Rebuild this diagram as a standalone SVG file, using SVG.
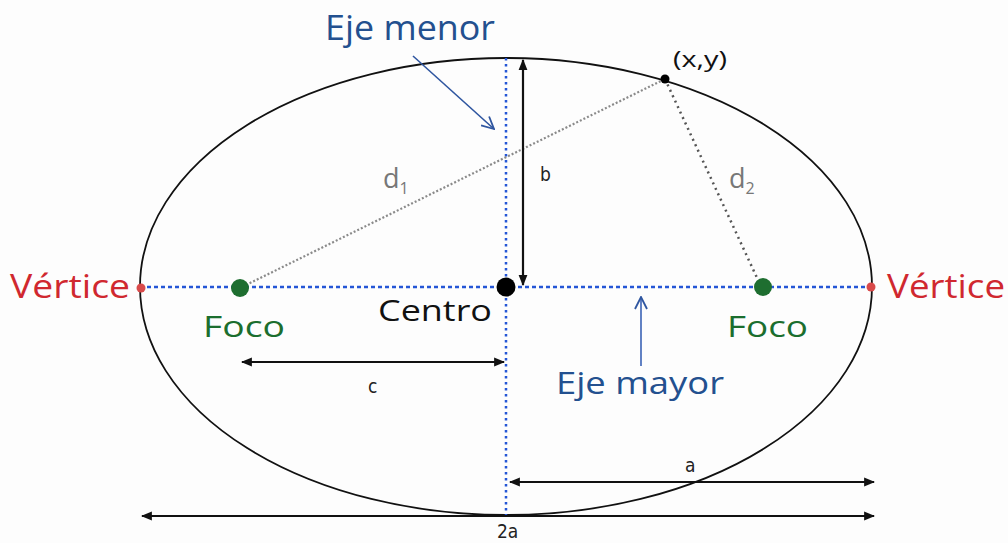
<svg xmlns="http://www.w3.org/2000/svg" width="1008" height="543" viewBox="0 0 1008 543">
<style>
.lbl{font-family:"Open Sans","Noto Sans","Liberation Sans",sans-serif}
.small{font-family:"Liberation Sans Narrow","DejaVu Sans Condensed","Liberation Sans",sans-serif;font-size:19px;fill:#222}
.axis{stroke:#2456d6;stroke-width:2.5;fill:none}
.dim{stroke:#111;stroke-width:2.2;fill:none;marker-start:url(#ah);marker-end:url(#ah)}
.blue{fill:#23508f}
.red{fill:#d0282f}
.green{fill:#1b6e2e}
</style>
<defs>
<marker id="ah" viewBox="0 0 10 10" refX="9" refY="5" markerWidth="5" markerHeight="5" orient="auto-start-reverse" markerUnits="strokeWidth">
<path d="M0,1 L10,5 L0,9 Z" fill="#111"/>
</marker>
<marker id="open" viewBox="0 0 14 14" refX="13" refY="7" markerWidth="14" markerHeight="14" orient="auto" markerUnits="userSpaceOnUse">
<path d="M1,1 L13,7 L1,13" fill="none" stroke="#2f56a0" stroke-width="1.8"/>
</marker>
</defs>
<rect width="1008" height="543" fill="#fdfdfd"/>
<g id="ellipse">
<ellipse cx="506" cy="286.5" rx="366" ry="228.5" fill="none" stroke="#111" stroke-width="1.8"/>
</g>
<g id="connectors">
<line class="axis" x1="140" y1="287" x2="872" y2="287" stroke-dasharray="4 3"/>
<line class="axis" x1="506" y1="58" x2="506" y2="515" stroke-dasharray="2.5 3.5"/>
<line x1="246" y1="285" x2="665" y2="79" stroke="#8a8a8a" stroke-width="2.2" stroke-dasharray="2 2"/>
<line x1="665" y1="79" x2="758" y2="280" stroke="#555" stroke-width="2.5" stroke-dasharray="2 4"/>
<line class="dim" x1="523" y1="60" x2="523" y2="285"/>
<line class="dim" x1="242" y1="362" x2="504" y2="362"/>
<line class="dim" x1="510" y1="482" x2="874" y2="482"/>
<line class="dim" x1="142" y1="516" x2="874" y2="516"/>
<line x1="413" y1="56" x2="494" y2="129" stroke="#2f56a0" stroke-width="1.6" marker-end="url(#open)"/>
<line x1="641" y1="366" x2="641" y2="297" stroke="#3a62b5" stroke-width="1.6" marker-end="url(#open)"/>
</g>
<g id="vertice-left">
<circle cx="141" cy="288" r="4.5" fill="#d94a4a"/>
<text class="lbl red" x="10" y="298" font-size="32" textLength="120" lengthAdjust="spacingAndGlyphs">Vértice</text>
</g>
<g id="vertice-right">
<circle cx="871" cy="287" r="4.5" fill="#d94a4a"/>
<text class="lbl red" x="887" y="298" font-size="32" textLength="118" lengthAdjust="spacingAndGlyphs">Vértice</text>
</g>
<g id="foco-left">
<circle cx="240" cy="288" r="9" fill="#1e6e30"/>
<text class="lbl green" x="203" y="337" font-size="30" textLength="82" lengthAdjust="spacingAndGlyphs">Foco</text>
</g>
<g id="foco-right">
<circle cx="763" cy="287" r="9" fill="#1e6e30"/>
<text class="lbl green" x="727" y="337" font-size="30" textLength="81" lengthAdjust="spacingAndGlyphs">Foco</text>
</g>
<g id="centro">
<circle cx="506" cy="287" r="9.5" fill="#000"/>
<text class="lbl" x="378" y="321" font-size="30" fill="#111" textLength="114" lengthAdjust="spacingAndGlyphs">Centro</text>
</g>
<g id="point-xy">
<circle cx="665" cy="79" r="4.5" fill="#000"/>
<text class="lbl" x="673" y="67" font-size="22" fill="#111" textLength="54" lengthAdjust="spacingAndGlyphs">(x,y)</text>
</g>
<g id="eje-menor">
<text class="lbl blue" x="325" y="40" font-size="34" textLength="170" lengthAdjust="spacingAndGlyphs">Eje menor</text>
</g>
<g id="eje-mayor">
<text class="lbl blue" x="556" y="394" font-size="31" textLength="168" lengthAdjust="spacingAndGlyphs">Eje mayor</text>
</g>
<g id="labels">
<text class="lbl" x="383" y="188" font-size="27" fill="#777">d<tspan font-size="16" dy="6">1</tspan></text>
<text class="lbl" x="729" y="188" font-size="27" fill="#777">d<tspan font-size="16" dy="6">2</tspan></text>
<text class="small" x="540" y="181">b</text>
<text class="small" x="368" y="393">c</text>
<text class="small" x="685" y="472">a</text>
<text class="small" x="497" y="538">2a</text>
</g>
</svg>
